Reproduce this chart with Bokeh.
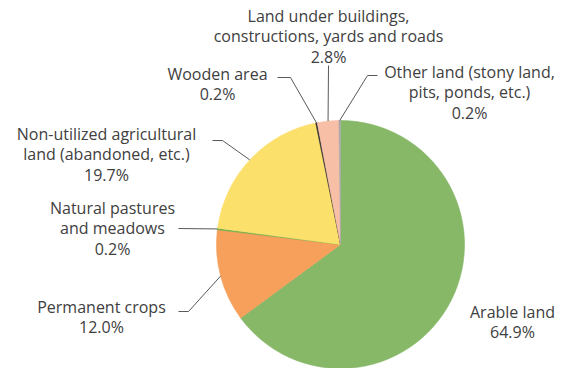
import math
from bokeh.plotting import figure
from bokeh.models import Range1d, ColumnDataSource
from bokeh.core.properties import value
from bokeh.embed import file_html
from bokeh.resources import INLINE

# ---- data (clockwise from 12 o'clock) ----
categories = [
    "Arable land",
    "Permanent crops",
    "Natural pastures\nand meadows",
    "Non-utilized agricultural\nland (abandoned, etc.)",
    "Wooden area",
    "Land under buildings,\nconstructions, yards and roads",
    "Other land (stony land,\npits, ponds, etc.)",
]
shares = [64.9, 12.0, 0.2, 19.7, 0.2, 2.8, 0.2]
colors = ["#86B868", "#F6A05B", "#6FAE48", "#FCE06C", "#2B2B2B", "#F8BFA7", "#A8A8A8"]

# ---- layout (picture pixel coordinates, origin top-left) ----
W, H = 558, 368
CX, CY, R = 340, 244, 124
label_x = [512, 101, 112, 106, 217, 328, 469]
label_y0 = [311, 306, 207, 133, 73, 15, 71]
LINE_H = 20.5
elbows = [
    None,
    [(178, 311), (188, 311)],
    [(178, 228)],
    [(212, 140), (222, 140)],
    [(277, 77), (290, 77)],
    [(328, 65)],
    [(377, 75), (367, 75)],
]


def py(y):
    return H - y


p = figure(width=W, height=H, x_range=Range1d(0, W), y_range=Range1d(0, H),
           output_backend="svg", toolbar_location=None, min_border=0,
           outline_line_color=None, background_fill_color="white")
p.axis.visible = False
p.xgrid.visible = False
p.ygrid.visible = False

total = sum(shares)
starts, ends, mids = [], [], []
acc = 0.0
for v in shares:
    a0 = math.pi / 2 - acc / total * 2 * math.pi
    acc += v
    a1 = math.pi / 2 - acc / total * 2 * math.pi
    starts.append(a0)
    ends.append(a1)
    mids.append((a0 + a1) / 2)

src = ColumnDataSource(dict(start=starts, end=ends, color=colors))
p.wedge(x=CX, y=py(CY), radius=R, start_angle="start", end_angle="end",
        direction="clock", fill_color="color", line_color="color", line_width=0.6,
        source=src)

# leader lines
for i, el in enumerate(elbows):
    if el is None:
        continue
    ax = CX + R * math.cos(mids[i])
    ay = CY - R * math.sin(mids[i])
    xs = [pt[0] for pt in el] + [ax]
    ys = [py(pt[1]) for pt in el] + [py(ay)]
    p.line(xs, ys, line_color="#595959", line_width=1)

# labels
tx, ty, tt = [], [], []
for i, name in enumerate(categories):
    lines = name.split("\n") + [f"{shares[i]:.1f}%"]
    for j, ln in enumerate(lines):
        tx.append(label_x[i])
        ty.append(py(label_y0[i] + j * LINE_H))
        tt.append(ln)
p.text(x=tx, y=ty, text=tt, text_align="center", text_baseline="middle",
       text_font=value("Open Sans"), text_font_size="16px", text_color="#404040")

open("out.html", "w").write(file_html(p, INLINE))
